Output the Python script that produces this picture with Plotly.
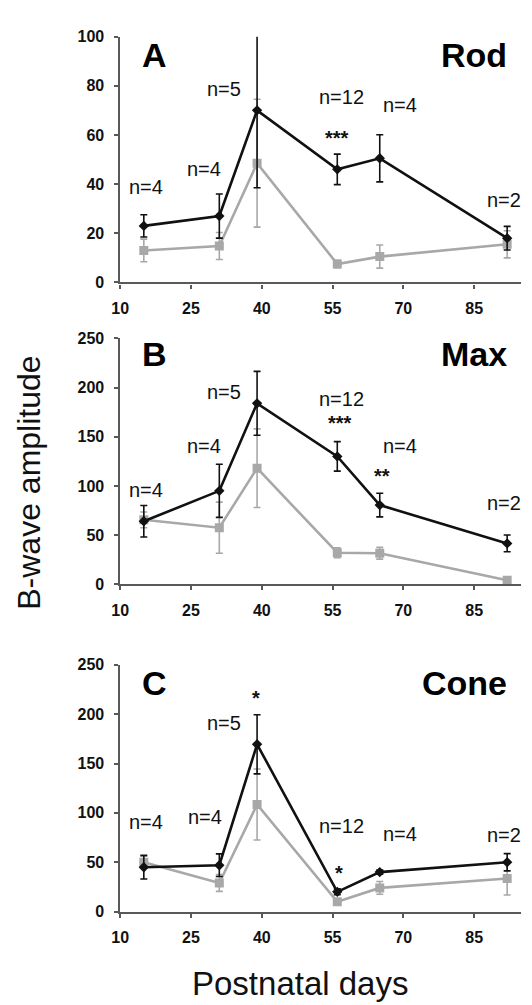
import plotly.graph_objects as go

# ---- data ----
days = [15, 31, 39, 56, 65, 92]

rod_black = [23, 27, 70, 46, 50.5, 18]
rod_black_err = [4.5, 9, 31.5, 6.2, 9.6, 4.8]
rod_gray = [13, 14.8, 48.5, 7.5, 10.5, 15.5]
rod_gray_err = [4.6, 5.5, 26, 1.5, 4.7, 5.5]

max_black = [64, 95, 184, 130, 80.5, 41.5]
max_black_err = [16, 27, 32.5, 15, 12, 8.5]
max_gray = [65.5, 57.5, 118, 32, 31.5, 4]
max_gray_err = [8, 26, 40, 5, 6, 2]

cone_black = [45, 47, 169.5, 20, 40, 50]
cone_black_err = [12, 11.5, 30, 3, 2, 8.7]
cone_gray = [50, 29, 108.5, 10, 24, 33.5]
cone_gray_err = [6, 8.5, 36, 2, 6.5, 16.7]

panel_letters = ["A", "B", "C"]
panel_titles = ["Rod", "Max", "Cone"]
x_ticks = [10, 25, 40, 55, 70, 85]

# annotations: (text, x, y)
notes_a = [("n=4", 15.4, 39), ("n=4", 27.7, 46), ("n=5", 32, 78.7), ("n=12", 56.8, 75.6),
           ("***", 55.9, 58.7), ("n=4", 69.3, 72), ("n=2", 91.3, 33.7)]
notes_b = [("n=4", 15.4, 96), ("n=4", 27.7, 141), ("n=5", 32, 195.6), ("n=12", 56.8, 188.6),
           ("***", 56.5, 164), ("n=4", 69.3, 141), ("**", 65.4, 110), ("n=2", 91.3, 82.8)]
notes_c = [("n=4", 15.4, 91), ("n=4", 28, 96), ("n=5", 32, 191), ("*", 38.7, 216.6),
           ("n=12", 56.8, 87), ("*", 56.3, 39.4), ("n=4", 69.3, 78.5), ("n=2", 91.3, 78)]

FONT = "Liberation Sans, Arial, sans-serif"
BLACK = "#111111"
GRAY = "#a8a8a8"
AX = "#595959"

W, H = 532, 1005
px_x0, px_x1 = 105, 513
panels_px = [(21, 271), (328, 578), (660, 911)]  # top, bottom pixel of plot area
yranges = [(0, 100), (0, 250), (0, 250)]
ydticks = [20, 50, 50]
letter_y = [92.6, 234, 232]

series = [
    (rod_black, rod_black_err, rod_gray, rod_gray_err, notes_a),
    (max_black, max_black_err, max_gray, max_gray_err, notes_b),
    (cone_black, cone_black_err, cone_gray, cone_gray_err, notes_c),
]

fig = go.Figure()
annotations = []
layout = {}
for i, (bk, bke, gr, gre, notes) in enumerate(series):
    sfx = "" if i == 0 else str(i + 1)
    xa, ya = "x" + sfx, "y" + sfx
    # gray series
    fig.add_trace(go.Scatter(
        x=days, y=gr, mode="lines+markers", xaxis=xa, yaxis=ya,
        line=dict(color=GRAY, width=2.6),
        marker=dict(symbol="square", size=9, color=GRAY),
        error_y=dict(type="data", array=gre, visible=True, color=GRAY, thickness=1.6, width=3.5),
        showlegend=False, hoverinfo="skip"))
    # black series
    fig.add_trace(go.Scatter(
        x=days, y=bk, mode="lines+markers", xaxis=xa, yaxis=ya,
        line=dict(color=BLACK, width=2.6),
        marker=dict(symbol="diamond", size=8, color=BLACK),
        error_y=dict(type="data", array=bke, visible=True, color=BLACK, thickness=1.6, width=3.5),
        showlegend=False, hoverinfo="skip"))

    top, bot = panels_px[i]
    layout["xaxis" + sfx] = dict(
        domain=[px_x0 / W, px_x1 / W], range=[10, 95], anchor=ya,
        tickmode="array", tickvals=x_ticks, ticktext=[str(t) for t in x_ticks],
        showline=True, linecolor=AX, linewidth=2.2, ticks="outside", ticklen=4,
        tickcolor=AX, tickwidth=1.5, showgrid=False, zeroline=False,
        tickfont=dict(family=FONT, size=16, color="#111111", weight="bold"),
        ticklabelstandoff=6, fixedrange=True)
    layout["yaxis" + sfx] = dict(
        domain=[(H - bot) / H, (H - top) / H], range=list(yranges[i]), anchor=xa,
        dtick=ydticks[i], tick0=0,
        showline=True, linecolor=AX, linewidth=1.5, ticks="outside", ticklen=4,
        tickcolor=AX, tickwidth=1.5, showgrid=False, zeroline=False,
        tickfont=dict(family=FONT, size=16, color="#111111", weight="bold"),
        ticklabelstandoff=7, fixedrange=True)

    annotations.append(dict(text=panel_letters[i], x=14.2, y=letter_y[i], xref=xa, yref=ya,
                            xanchor="left", yanchor="middle", showarrow=False,
                            font=dict(family=FONT, size=34, color="#000000", weight="bold")))
    annotations.append(dict(text=panel_titles[i], x=92.3, y=letter_y[i], xref=xa, yref=ya,
                            xanchor="right", yanchor="middle", showarrow=False,
                            font=dict(family=FONT, size=34, color="#000000", weight="bold")))
    for txt, nx, ny in notes:
        star = txt.startswith("*")
        annotations.append(dict(text=txt, x=nx, y=ny, xref=xa, yref=ya,
                                xanchor="center", yanchor="middle", showarrow=False,
                                font=dict(family=FONT, size=20, color="#111111",
                                          weight="bold" if star else "normal")))

annotations.append(dict(text="B-wave amplitude", x=12 / W, y=(H - 475) / H, xref="paper", yref="paper",
                        textangle=-90, xanchor="center", yanchor="middle", showarrow=False,
                        font=dict(family=FONT, size=32, color="#111111")))
annotations.append(dict(text="Postnatal days", x=288 / W, y=(H - 984) / H, xref="paper", yref="paper",
                        xanchor="center", yanchor="middle", showarrow=False,
                        font=dict(family=FONT, size=33, color="#111111")))

fig.update_layout(width=W, height=H, margin=dict(l=0, r=0, t=0, b=0),
                  paper_bgcolor="white", plot_bgcolor="white",
                  annotations=annotations, **layout)

fig.write_html("out.html", config={"displayModeBar": False})
